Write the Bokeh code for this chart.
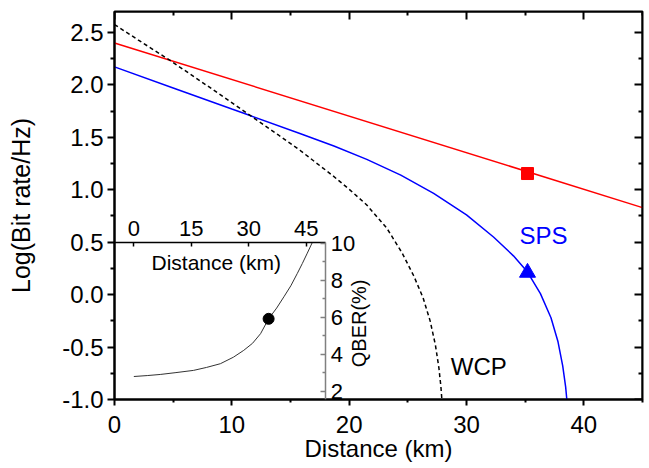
from bokeh.plotting import figure
from bokeh.models import Range1d, LinearAxis, FixedTicker, Label
from bokeh.embed import file_html
from bokeh.resources import INLINE

# ---------------- data ----------------
# main chart: Distance (km) vs Log(Bit rate/Hz)
red_km = [0, 45]
red_log = [2.40, 0.83]

blue_km = [0, 5, 10, 11.2, 15.8, 18.7, 21.5, 24.4, 27.2, 30.0, 32.3, 34.0,
           35.2, 36.3, 37.2, 37.8, 38.2, 38.45, 38.55]
blue_log = [2.172, 1.971, 1.770, 1.722, 1.537, 1.418, 1.290, 1.140, 0.965,
            0.760, 0.550, 0.370, 0.215, 0.010, -0.220, -0.450, -0.680,
            -0.880, -1.000]

wcp_km = [0, 2, 4.7, 8, 11.2, 14, 15.8, 18.6, 20, 21.5, 23.2, 24.5, 25.5,
          26.3, 26.9, 27.35, 27.65, 27.82, 27.9]
wcp_log = [2.576, 2.43, 2.236, 1.985, 1.737, 1.52, 1.377, 1.135, 1.005,
           0.855, 0.635, 0.40, 0.18, -0.03, -0.25, -0.48, -0.70, -0.88, -1.0]

marker_km = [35.2]
red_marker_log = [1.155]
blue_marker_log = [0.21]

# inset: QBER(%) vs Distance (km)
qber_km = [0, 3.5, 6.9, 11, 15.6, 19, 22.6, 26, 28.7, 31, 33.1, 35.2,
           37.3, 39.2, 41, 42.7, 44, 45.3, 46.6]
qber_pct = [2.81, 2.86, 2.92, 3.02, 3.14, 3.30, 3.50, 3.85, 4.22, 4.60,
            5.12, 5.92, 6.50, 7.11, 7.70, 8.37, 8.90, 9.46, 10.03]
qber_dot_km = [35.2]
qber_dot_pct = [5.92]

# ticks
x_ticks = [0, 10, 20, 30, 40]
x_minor = [5, 15, 25, 35, 45]
y_ticks = [-1.0, -0.5, 0.0, 0.5, 1.0, 1.5, 2.0, 2.5]
y_tick_labels = ["-1.0", "-0.5", "0.0", "0.5", "1.0", "1.5", "2.0", "2.5"]
y_minor = [-0.75, -0.25, 0.25, 0.75, 1.25, 1.75, 2.25]
inset_x_ticks = [0, 15, 30, 45]
inset_y_ticks = [2, 4, 6, 8, 10]
inset_y_minor = [3, 5, 7, 9]

FONT = "Liberation Sans"

p = figure(width=646, height=468,
           x_range=Range1d(0, 45), y_range=Range1d(-1.0, 2.7),
           output_backend="svg", toolbar_location=None,
           min_border_left=114, min_border_right=4,
           min_border_top=11, min_border_bottom=69)
p.extra_x_ranges = {"ix": Range1d(-5.05, 132.85)}
p.extra_y_ranges = {"iy": Range1d(1.57, 22.49)}
p.grid.visible = False
p.outline_line_color = "black"
p.outline_line_width = 2
p.background_fill_color = "white"
p.border_fill_color = "white"

def style(ax, size="24px", title_size="24px"):
    ax.major_label_text_font = FONT
    ax.major_label_text_font_size = size
    ax.axis_label_text_font = FONT
    ax.axis_label_text_font_style = "normal"
    ax.axis_label_text_font_size = title_size
    ax.axis_label_text_color = "black"
    ax.major_label_text_color = "black"

# bottom axis
xa = p.xaxis[0]
xa.ticker = FixedTicker(ticks=x_ticks, minor_ticks=x_minor)
xa.axis_label = "Distance (km)"
style(xa)
xa.major_tick_out = 6
xa.major_tick_in = 0
xa.minor_tick_out = 3
xa.minor_tick_in = 0
xa.axis_line_width = 2
xa.major_tick_line_width = 2
xa.minor_tick_line_width = 2
xa.major_label_standoff = 10
xa.axis_label_standoff = -1

# left axis
ya = p.yaxis[0]
ya.ticker = FixedTicker(ticks=y_ticks, minor_ticks=y_minor)
ya.major_label_overrides = {t: s for t, s in zip(y_ticks, y_tick_labels)}
ya.axis_label = "Log(Bit rate/Hz)"
style(ya, "24px", "25px")
ya.major_tick_out = 7
ya.major_tick_in = 0
ya.minor_tick_out = 4
ya.minor_tick_in = 0
ya.axis_line_width = 2
ya.major_tick_line_width = 2
ya.minor_tick_line_width = 2
ya.major_label_standoff = 4
ya.axis_label_standoff = 24

# mirror axes (ticks inward, no labels)
top = LinearAxis(fixed_location=2.7,
                 ticker=FixedTicker(ticks=x_ticks, minor_ticks=x_minor),
                 major_tick_in=8, major_tick_out=0,
                 minor_tick_in=4, minor_tick_out=0,
                 axis_line_width=2, major_tick_line_width=2,
                 minor_tick_line_width=2,
                 major_label_overrides={t: "" for t in x_ticks},
                 major_label_standoff=0)
p.add_layout(top, "above")
right = LinearAxis(fixed_location=45,
                   ticker=FixedTicker(ticks=y_ticks, minor_ticks=y_minor),
                   major_tick_in=8, major_tick_out=0,
                   minor_tick_in=4, minor_tick_out=0,
                   axis_line_width=2, major_tick_line_width=2,
                   minor_tick_line_width=2,
                   major_label_overrides={t: "" for t in y_ticks},
                   major_label_standoff=0)
p.add_layout(right, "right")

# inset axes
itop = LinearAxis(x_range_name="ix", fixed_location=0.5, bounds=(-5.05, 50.1),
                  ticker=FixedTicker(ticks=inset_x_ticks, minor_ticks=[]),
                  major_tick_in=4, major_tick_out=0,
                  minor_tick_in=0, minor_tick_out=0,
                  axis_line_width=1.5, major_tick_line_width=1.5,
                  major_label_standoff=6)
style(itop, "22px")
p.add_layout(itop, "above")

iright = LinearAxis(y_range_name="iy", fixed_location=18, bounds=(1.57, 10.05),
                    ticker=FixedTicker(ticks=inset_y_ticks, minor_ticks=inset_y_minor),
                    major_tick_in=5, major_tick_out=0,
                    minor_tick_in=3, minor_tick_out=0,
                    axis_line_width=1.5, major_tick_line_width=1.5,
                    minor_tick_line_width=1.5,
                    axis_line_color="#808080", major_tick_line_color="#808080",
                    minor_tick_line_color="#808080",
                    major_label_standoff=5)
style(iright, "22px")
p.add_layout(iright, "right")

# main curves
p.line(red_km, red_log, line_color="#ff0000", line_width=1.5)
p.line(blue_km, blue_log, line_color="#0000ff", line_width=1.5)
p.line(wcp_km, wcp_log, line_color="black", line_width=1.5, line_dash="4 3")
p.scatter(marker_km, red_marker_log, marker="square", size=12,
          fill_color="#ff0000", line_color="#ff0000")
p.scatter(marker_km, blue_marker_log, marker="triangle", size=16,
          fill_color="#0000ff", line_color="#0000ff")

# inset curve
p.line(qber_km, qber_pct, x_range_name="ix", y_range_name="iy",
       line_color="#333333", line_width=1)
p.scatter(qber_dot_km, qber_dot_pct, x_range_name="ix", y_range_name="iy",
          marker="circle", size=11, fill_color="black", line_color="black")

# text labels
p.add_layout(Label(x=36.57, y=0.566, text="SPS", text_color="#0000ff",
                   text_font=FONT, text_font_size="24px",
                   text_align="center", text_baseline="middle"))
p.add_layout(Label(x=31.05, y=-0.69, text="WCP", text_color="black",
                   text_font=FONT, text_font_size="24px",
                   text_align="center", text_baseline="middle"))
p.add_layout(Label(x=8.67, y=0.308, text="Distance (km)", text_color="black",
                   text_font=FONT, text_font_size="21px",
                   text_align="center", text_baseline="middle"))
p.add_layout(Label(x=20.8, y=-0.274, text="QBER(%)", text_color="black",
                   text_font=FONT, text_font_size="20px", angle=90,
                   angle_units="deg",
                   text_align="center", text_baseline="middle"))

open("out.html", "w").write(file_html(p, INLINE))
